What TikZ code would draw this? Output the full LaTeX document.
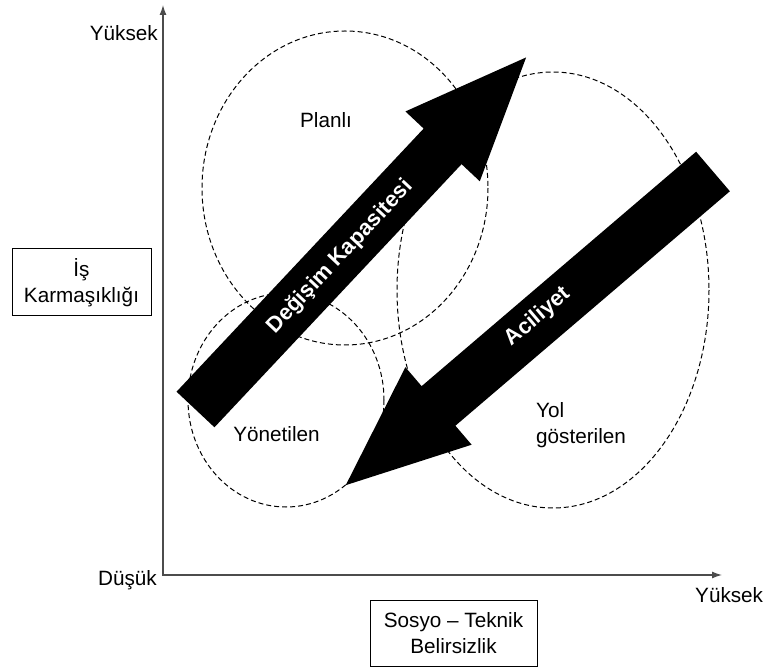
\documentclass[tikz,border=0pt]{standalone}
\usepackage{fontspec}
\setmainfont{Liberation Sans}
\usetikzlibrary{arrows.meta}

\begin{document}
\begin{tikzpicture}[x=1pt,y=-1pt,
    every node/.style={font=\fontsize{20.7}{26}\selectfont, inner sep=0pt},
    eje/.style={line width=1.3pt, draw=black!70, {Latex[length=10pt,width=7pt]}-{Latex[length=10pt,width=7pt]}},
    zona/.style={line width=1pt, dash pattern=on 5pt off 3pt},
    caja/.style={draw, line width=1pt, align=center},
    flechatexto/.style={text=white, font=\fontsize{22}{26}\selectfont\bfseries}]
    \useasboundingbox (0,0) rectangle (766,668);

	% Ejes
	\coordinate (origen) at (163,575);
	\coordinate (ytope) at (163,5);
	\coordinate (xfin) at (722,575);
	\draw[eje] (ytope) |- (xfin);

	% Zonas punteadas
	\draw[zona] (345,188) ellipse [x radius=143, y radius=157];
	\draw[zona] (286,400) ellipse [x radius=98, y radius=107];
	\draw[zona] (553,290) ellipse [x radius=156, y radius=218];

	% Flechas grandes
	\foreach \px/\py/\ang in {195.5/409.5/46.8, 713/171.5/220.5} {
	    \fill[shift={(\px,\py)}, rotate=\ang] (0,-26) -- (361,-26) -- (361,-51)
	        -- (483,0) -- (361,51) -- (361,26) -- (0,26) -- cycle;
	}
	\node[flechatexto, rotate=46.8] (degisim) at (340,257) {Değişim Kapasitesi};
	\node[flechatexto, rotate=40.5] (aciliyet) at (538,317) {Aciliyet};

	% Etiquetas de los ejes
	\node[anchor=base east] (yuksekY) at (158,40.5) {Yüksek};
	\node[anchor=base east] (dusuk) at (157,585) {Düşük};
	\node[anchor=base west] (yuksekX) at (695,602) {Yüksek};
	\node[caja, minimum width=139, minimum height=67] (karmasiklik) at (81.5,282.5) {İş\\Karmaşıklığı};
	\node[caja, minimum width=167, minimum height=66] (belirsizlik) at (453.5,633) {Sosyo – Teknik\\Belirsizlik};

	% Nombres de las zonas
	\node[anchor=base] (planli) at (326,128) {Planlı};
	\node[anchor=base] (yonetilen) at (276.5,441.5) {Yönetilen};
	\node[anchor=north west, align=left] (yol) at (536,402) {Yol\\gösterilen};
    \end{tikzpicture}
\end{document}
